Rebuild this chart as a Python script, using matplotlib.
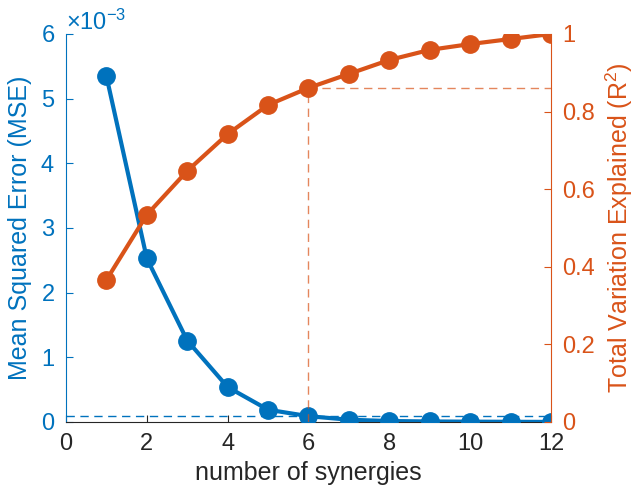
import numpy as np
import matplotlib
matplotlib.use("Agg")
import matplotlib.pyplot as plt

plt.rcParams['font.family'] = ['Liberation Sans', 'DejaVu Sans']
plt.rcParams['mathtext.default'] = 'regular'

synergies = [1, 2, 3, 4, 5, 6, 7, 8, 9, 10, 11, 12]
mse = [5.35e-3, 2.53e-3, 1.26e-3, 0.54e-3, 0.19e-3, 0.09e-3,
       0.035e-3, 0.015e-3, 0.008e-3, 0.005e-3, 0.003e-3, 0.001e-3]
r2 = [0.366, 0.534, 0.647, 0.742, 0.817, 0.861,
      0.897, 0.933, 0.959, 0.974, 0.987, 1.0]
mse_thresh = 0.092e-3
chosen = 6

blue = '#0072BD'
orange = '#D95319'
grey = '#262626'

fig = plt.figure(figsize=(6.38, 4.96), dpi=100)
ax = fig.add_axes([0.1034, 0.1492, 0.7602, 0.7823])
ax2 = ax.twinx()

ax.plot(synergies, mse, '-o', color=blue, lw=3, ms=12.5, zorder=3)
ax.axhline(mse_thresh, color=blue, lw=1, ls=(0, (6, 4)), zorder=2)

ax2.plot(synergies, r2, '-o', color=orange, lw=3, ms=12.5, zorder=3)
r_sel = r2[synergies.index(chosen)]
ax2.plot([chosen, chosen], [0, r_sel], color=orange, lw=1, ls=(0, (6, 4)), alpha=0.7)
ax2.plot([chosen, 12], [r_sel, r_sel], color=orange, lw=1, ls=(0, (6, 4)), alpha=0.7)

ax.set_xlim(0, 12)
ax.set_ylim(0, 6e-3)
ax2.set_ylim(0, 1)
ax.set_xticks(range(0, 13, 2))
ax.set_yticks(np.arange(0, 7) * 1e-3)
ax2.set_yticks([0, 0.2, 0.4, 0.6, 0.8, 1])
ax2.set_yticklabels(['0', '0.2', '0.4', '0.6', '0.8', '1'])
ax.ticklabel_format(axis='y', style='sci', scilimits=(0, 0), useMathText=True)

for a in (ax, ax2):
    a.spines['top'].set_visible(False)
    a.set_facecolor('none')
ax.spines['right'].set_visible(False)
ax2.spines['left'].set_visible(False)
ax2.spines['bottom'].set_visible(False)
ax.spines['left'].set_color(blue)
ax2.spines['right'].set_color(orange)
ax.spines['bottom'].set_color(grey)

ax.tick_params(axis='y', colors=blue, direction='in', labelsize=17, length=5, pad=8)
ax.tick_params(axis='x', colors=grey, direction='in', labelsize=17, length=5, pad=8)
ax2.tick_params(axis='y', colors=orange, direction='in', labelsize=17, length=5, pad=8)
ax.yaxis.get_offset_text().set_fontsize(17)
ax.yaxis.get_offset_text().set_color(blue)

ax.set_xlabel('number of synergies', fontsize=18, color=grey, labelpad=4)
ax.set_ylabel('Mean Squared Error (MSE)', fontsize=18, color=blue, labelpad=6)
ax2.set_ylabel('Total Variation Explained (R$^2$)', fontsize=18, color=orange, labelpad=6)

fig.savefig('out.png', dpi=100)
